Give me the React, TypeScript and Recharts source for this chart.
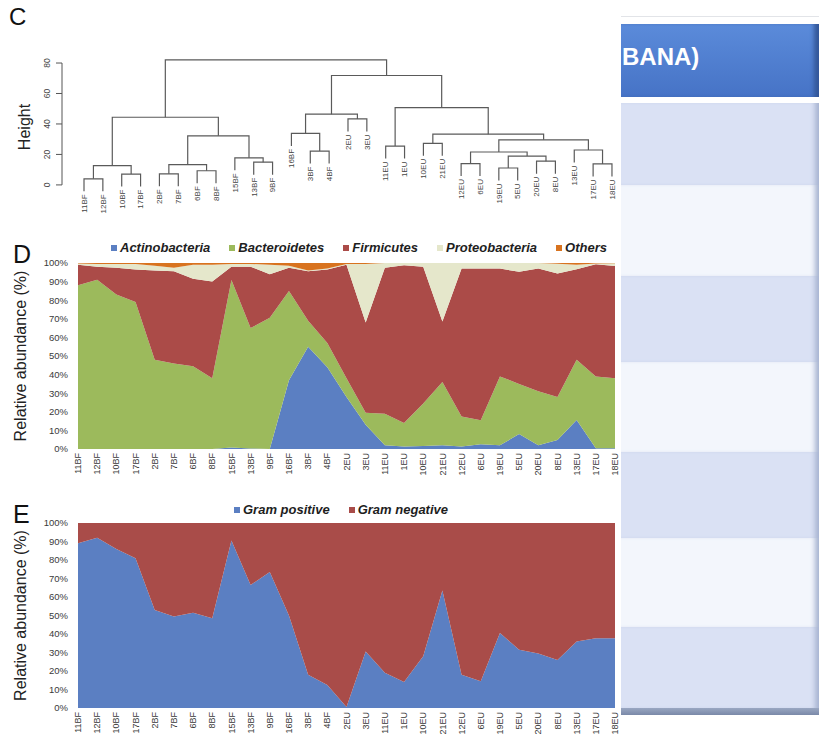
import React from "react";
import {
  AreaChart,
  Area,
  XAxis,
  YAxis,
  Legend,
  ScatterChart,
  Scatter,
  ReferenceLine,
} from "recharts";

const FONT = '"Liberation Sans", Arial, Helvetica, sans-serif';

// sample order (same for dendrogram leaves and both abundance panels)
const samples = [
  "11BF", "12BF", "10BF", "17BF", "2BF", "7BF", "6BF", "8BF", "15BF", "13BF",
  "9BF", "16BF", "3BF", "4BF", "2EU", "3EU", "11EU", "1EU", "10EU", "21EU",
  "12EU", "6EU", "19EU", "5EU", "20EU", "8EU", "13EU", "17EU", "18EU",
];

// panel D, relative abundance (%) per phylum
const actinobacteria = [0, 0, 0, 0, 0, 0, 0, 0, 0.8, 0.3, 0, 37, 55, 44, 28, 13, 2, 1.3, 1.6, 2, 1.3, 2.5, 2, 8, 2, 4.8, 15.6, 0.4, 0.4];
const bacteroidetes = [88, 91, 83, 79, 48, 46, 44.5, 38, 90, 64.7, 70.5, 48, 14, 13, 10, 6.5, 17, 12.7, 22.9, 34, 16.2, 13, 37, 27, 29, 23.2, 32.4, 38.6, 37.6];
const firmicutes = [11, 7, 14.5, 17.5, 48, 49.5, 47, 52, 7.2, 33, 23.5, 12.5, 26.5, 39.5, 61, 48.5, 78.5, 84.8, 73.5, 32.5, 79.5, 81.5, 58, 60.3, 66, 66.4, 48.6, 60.3, 60.4];
const proteobacteria = [0.7, 1.5, 2, 3, 2.5, 2, 7.5, 9, 1.5, 1.5, 5, 1, 0.5, 0.5, 0.5, 31.5, 2.5, 1.2, 2, 31.5, 3, 3, 3, 4.7, 3, 5.2, 2.4, 0.4, 1.4];
const others = [0.3, 0.5, 0.5, 0.5, 1.5, 2.5, 1, 1, 0.5, 0.5, 1, 1.5, 4, 3, 0.5, 0.5, 0, 0, 0, 0, 0, 0, 0, 0, 0, 0.4, 1, 0.3, 0.2];

// panel E
const gramPositive = [89, 92, 86, 81, 53, 49.5, 51.5, 48.5, 90.5, 66.5, 73.5, 50, 18, 12.5, 0.5, 30.5, 19, 14, 28, 63.5, 18, 14.5, 40.5, 31.5, 29.5, 26, 36, 37.7, 37.7];
const gramNegative = [11, 8, 14, 19, 47, 50.5, 48.5, 51.5, 9.5, 33.5, 26.5, 50, 82, 87.5, 99.5, 69.5, 81, 86, 72, 36.5, 82, 85.5, 59.5, 68.5, 70.5, 74, 64, 62.3, 62.3];

// panel C, hclust-style merges: negative = leaf (1-based), positive = earlier merge
const mergeLeft = [-1, -3, 1, -5, -7, 4, -10, -9, 6, 3, -13, -12, -15, 12, -17, -19, -21, -23, -25, 18, 17, -28, -27, 21, 16, 15, 14, 10];
const mergeRight = [-2, -4, 2, -6, -8, 5, -11, 7, 8, 9, -14, 11, -16, 13, -18, -20, -22, -24, -26, 19, 20, -29, 22, 23, 24, 25, 26, 27];
const mergeHeight = [4, 7.1, 12.7, 7.3, 9.3, 13.3, 14.9, 17.8, 32.2, 44.4, 22.2, 33.8, 43.3, 46.4, 25.5, 27.3, 14, 11.1, 15.6, 18.9, 21.6, 13.8, 22.9, 29.6, 33.3, 50.7, 71.8, 82];

const heightTicks = [0, 20, 40, 60, 80];
const pctTicks = [0, 10, 20, 30, 40, 50, 60, 70, 80, 90, 100];

const phyla = [
  { key: "actino", name: "Actinobacteria", color: "#5b7fc2" },
  { key: "bact", name: "Bacteroidetes", color: "#9cba5c" },
  { key: "firm", name: "Firmicutes", color: "#ab4b48" },
  { key: "proteo", name: "Proteobacteria", color: "#e5e7cb" },
  { key: "others", name: "Others", color: "#d8731f" },
];
const gram = [
  { key: "pos", name: "Gram positive", color: "#5b7fc2" },
  { key: "neg", name: "Gram negative", color: "#a94c49" },
];
const colorOf: Record<string, string> = {};
[...phyla, ...gram].forEach((s) => (colorOf[s.key] = s.color));

const phylumData = samples.map((name, i) => ({
  name,
  actino: actinobacteria[i],
  bact: bacteroidetes[i],
  firm: firmicutes[i],
  proteo: proteobacteria[i],
  others: others[i],
}));
const gramData = samples.map((name, i) => ({ name, pos: gramPositive[i], neg: gramNegative[i] }));

// dendrogram segments (leaf hang like R's plot.hclust, hang = 0.1)
type Pt = { x: number; y: number };
function buildDendrogram() {
  const hang = 0.1 * Math.max(...mergeHeight);
  const nodes: { x: number; h: number }[] = [];
  const links: Pt[][] = [];
  const leafEnds: { x: number; y: number; name: string }[] = [];
  const resolve = (ref: number, parentH: number) => {
    if (ref < 0) {
      const i = -ref - 1;
      const h = parentH - hang;
      leafEnds.push({ x: i, y: h, name: samples[i] });
      return { x: i, h };
    }
    return nodes[ref - 1];
  };
  mergeLeft.forEach((l, k) => {
    const h = mergeHeight[k];
    const a = resolve(l, h);
    const b = resolve(mergeRight[k], h);
    nodes.push({ x: (a.x + b.x) / 2, h });
    links.push([
      { x: a.x, y: a.h },
      { x: a.x, y: h },
      { x: b.x, y: h },
      { x: b.x, y: b.h },
    ]);
  });
  return { links, leafEnds };
}
const dendro = buildDendrogram();
const X_MIN = -1.167;

function SampleTick({ x, y, payload }: any) {
  return (
    <text
      x={x}
      y={y}
      transform={`rotate(-90 ${x} ${y})`}
      textAnchor="end"
      dy="0.35em"
      fontSize={9}
      fill="#3a3a3a"
      fontFamily={FONT}
    >
      {payload.value}
    </text>
  );
}

function HeightTick({ x, y, payload }: any) {
  const tx = x - 7;
  return (
    <text
      x={tx}
      y={y}
      transform={`rotate(-90 ${tx} ${y})`}
      textAnchor="middle"
      dy="0.35em"
      fontSize={8.5}
      fill="#444"
      fontFamily={FONT}
    >
      {payload.value}
    </text>
  );
}

function LeafLabel(props: any) {
  const { cx, cy, payload } = props;
  const y = cy + 3;
  return (
    <text
      x={cx}
      y={y}
      transform={`rotate(-90 ${cx} ${y})`}
      textAnchor="end"
      dy="0.35em"
      fontSize={8}
      fill="#444"
      fontFamily={FONT}
    >
      {payload.name}
    </text>
  );
}

function AxisTitle({ viewBox, text }: any) {
  const cx = 20;
  const cy = viewBox.y + viewBox.height / 2;
  return (
    <text
      x={cx}
      y={cy}
      transform={`rotate(-90 ${cx} ${cy})`}
      textAnchor="middle"
      dy="0.35em"
      fontSize={16}
      fill="#222"
      fontFamily={FONT}
    >
      {text}
    </text>
  );
}

function LegendRow({ payload, fontSize, order }: any) {
  const items = [...(payload || [])].sort(
    (a: any, b: any) => order.indexOf(a.dataKey) - order.indexOf(b.dataKey)
  );
  return (
    <div
      style={{
        display: "flex",
        gap: 19,
        fontFamily: FONT,
        fontWeight: 700,
        fontStyle: "italic",
        fontSize,
        lineHeight: "14px",
        color: "#1e1e1e",
        whiteSpace: "nowrap",
      }}
    >
      {items.map((p: any) => (
        <span key={p.value} style={{ display: "flex", alignItems: "center" }}>
          <span
            style={{
              width: 6,
              height: 6,
              background: colorOf[p.dataKey],
              marginRight: 3,
              display: "inline-block",
            }}
          />
          {p.value}
        </span>
      ))}
    </div>
  );
}

const letter = (t: string, left: number, top: number, size: number) => (
  <div
    style={{
      position: "absolute",
      left,
      top,
      fontFamily: FONT,
      fontSize: size,
      lineHeight: `${size}px`,
      color: "#111",
    }}
  >
    {t}
  </div>
);

const rowColors = ["#dae1f4", "#f3f6fc", "#dae1f4", "#f3f6fc", "#dae1f4", "#f3f6fc", "#dae1f4"];
const rowHeights = [82, 91, 86, 90, 86, 89, 81];

function TableStub() {
  return (
    <div style={{ position: "absolute", left: 621, top: 0, width: 198, height: 740 }}>
      <div style={{ position: "absolute", left: 0, right: 0, top: 16, height: 1, background: "#e2e4e8" }} />
      <div
        style={{
          position: "absolute",
          left: 0,
          right: 0,
          top: 24,
          height: 73,
          background: "linear-gradient(#5b8bda, #4673c6)",
          boxShadow: "inset -7px 0 4px -2px #34589a",
        }}
      >
        <div
          style={{
            position: "absolute",
            left: 1,
            top: 33,
            fontFamily: FONT,
            fontWeight: 700,
            fontSize: 24,
            lineHeight: "26px",
            color: "#fff",
            transform: "translateY(-50%)",
          }}
        >
          BANA)
        </div>
      </div>
      <div style={{ position: "absolute", left: 0, right: 0, top: 103 }}>
        {rowColors.map((c, i) => (
          <div
            key={i}
            style={{
              height: rowHeights[i],
              background: c,
              boxShadow: "inset -7px 0 5px -3px #a9b5d2",
            }}
          />
        ))}
        <div style={{ height: 7, background: "linear-gradient(#9aa7c2, #7a89a8)" }} />
      </div>
    </div>
  );
}

const phylaOrder = phyla.map((s) => s.key);
const gramOrder = gram.map((s) => s.key);

export default function App() {
  return (
    <div
      style={{
        position: "absolute",
        left: 0,
        top: 0,
        width: 819,
        height: 740,
        background: "#fff",
        overflow: "hidden",
      }}
    >
      {letter("C", 9, 5, 24)}
      {letter("D", 13, 242, 25)}
      {letter("E", 13, 502, 25)}

      {/* C: dendrogram */}
      <div style={{ position: "absolute", left: 0, top: 0 }}>
        <ScatterChart width={625} height={230} margin={{ top: 55.4, right: 3.6, bottom: 7, left: 0 }}>
          <XAxis type="number" dataKey="x" domain={[X_MIN, 28.5]} allowDataOverflow hide />
          <YAxis
            type="number"
            dataKey="y"
            domain={[-25, 85]}
            allowDataOverflow
            ticks={heightTicks}
            width={62}
            axisLine={false}
            tickLine={{ stroke: "#555" }}
            tickSize={6}
            tick={<HeightTick />}
            label={{
              content: () => {
                const cx = 24;
                const cy = 127;
                return (
                  <text
                    x={cx}
                    y={cy}
                    transform={`rotate(-90 ${cx} ${cy})`}
                    textAnchor="middle"
                    dy="0.35em"
                    fontSize={16}
                    fill="#222"
                    fontFamily={FONT}
                  >
                    Height
                  </text>
                );
              },
            }}
          />
          <ReferenceLine
            segment={[
              { x: X_MIN, y: 0 },
              { x: X_MIN, y: 80 },
            ]}
            stroke="#555"
            ifOverflow="visible"
          />
          {dendro.links.map((seg, i) => (
            <Scatter
              key={i}
              data={seg}
              line={{ stroke: "#5a5a5a", strokeWidth: 1.2 }}
              shape={() => <g />}
              isAnimationActive={false}
            />
          ))}
          <Scatter data={dendro.leafEnds} shape={<LeafLabel />} isAnimationActive={false} />
        </ScatterChart>
      </div>

      {/* D: phylum composition */}
      <div style={{ position: "absolute", left: 0, top: 240 }}>
        <AreaChart width={620} height={250} data={phylumData} margin={{ top: 23, right: 5, bottom: 11, left: 0 }}>
          <XAxis
            dataKey="name"
            interval={0}
            height={30}
            axisLine={false}
            tickLine={false}
            tickSize={2}
            tickMargin={2}
            tick={<SampleTick />}
          />
          <YAxis
            domain={[0, 100]}
            allowDataOverflow
            ticks={pctTicks}
            tickFormatter={(v: number) => `${v}%`}
            width={78}
            axisLine={false}
            tickLine={false}
            tickMargin={4}
            tick={{ fontSize: 9.5, fill: "#3a3a3a", fontFamily: FONT }}
            label={{ content: (p: any) => <AxisTitle {...p} text="Relative abundance (%)" /> }}
          />
          <Legend
            verticalAlign="middle"
            align="center"
            wrapperStyle={{ top: 1, left: 111, width: 520 }}
            content={(p: any) => <LegendRow {...p} fontSize={13} order={phylaOrder} />}
          />
          {phyla.map((s) => (
            <Area
              key={s.key}
              type="linear"
              dataKey={s.key}
              name={s.name}
              stackId="phyla"
              stroke="none"
              fill={s.color}
              fillOpacity={1}
              isAnimationActive={false}
            />
          ))}
        </AreaChart>
      </div>

      {/* E: gram staining */}
      <div style={{ position: "absolute", left: 0, top: 500 }}>
        <AreaChart width={620} height={240} data={gramData} margin={{ top: 23, right: 5, bottom: 2, left: 0 }}>
          <XAxis
            dataKey="name"
            interval={0}
            height={30}
            axisLine={false}
            tickLine={false}
            tickSize={2}
            tickMargin={2}
            tick={<SampleTick />}
          />
          <YAxis
            domain={[0, 100]}
            allowDataOverflow
            ticks={pctTicks}
            tickFormatter={(v: number) => `${v}%`}
            width={78}
            axisLine={false}
            tickLine={false}
            tickMargin={4}
            tick={{ fontSize: 9.5, fill: "#3a3a3a", fontFamily: FONT }}
            label={{ content: (p: any) => <AxisTitle {...p} text="Relative abundance (%)" /> }}
          />
          <Legend
            verticalAlign="middle"
            align="center"
            wrapperStyle={{ top: 3, left: 234, width: 300 }}
            content={(p: any) => <LegendRow {...p} fontSize={13} order={gramOrder} />}
          />
          {gram.map((s) => (
            <Area
              key={s.key}
              type="linear"
              dataKey={s.key}
              name={s.name}
              stackId="gram"
              stroke="none"
              fill={s.color}
              fillOpacity={1}
              isAnimationActive={false}
            />
          ))}
        </AreaChart>
      </div>

      <TableStub />
    </div>
  );
}
